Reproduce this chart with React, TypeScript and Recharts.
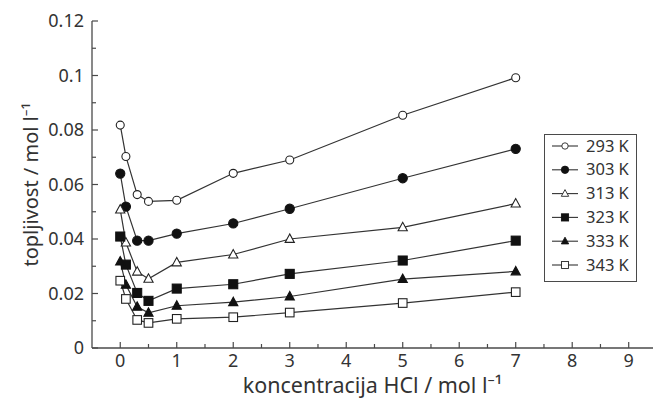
import { Legend, Line, LineChart, XAxis, YAxis } from 'recharts'

// page margin off so the chart sits at 0,0
document.body.style.margin = '0'

const conc = [0, 0.1, 0.3, 0.5, 1, 2, 3, 5, 7]

const s293 = [0.0818, 0.0703, 0.0563, 0.0538, 0.0542, 0.0641, 0.069, 0.0854, 0.0992]
const s303 = [0.064, 0.0519, 0.0394, 0.0394, 0.042, 0.0457, 0.0511, 0.0623, 0.0731]
const s313 = [0.0508, 0.0387, 0.028, 0.0254, 0.0314, 0.0343, 0.04, 0.0443, 0.053]
const s323 = [0.0409, 0.0306, 0.0202, 0.0173, 0.0218, 0.0234, 0.0272, 0.0321, 0.0394]
const s333 = [0.0317, 0.0232, 0.0151, 0.0129, 0.0155, 0.0168, 0.0189, 0.0253, 0.0281]
const s343 = [0.0247, 0.018, 0.0103, 0.0092, 0.0107, 0.0113, 0.013, 0.0165, 0.0205]

const seriesNames = ['293 K', '303 K', '313 K', '323 K', '333 K', '343 K']
const seriesKeys = ['t293', 't303', 't313', 't323', 't333', 't343']
const seriesValues = [s293, s303, s313, s323, s333, s343]
const markerShapes = ['circleOpen', 'circleFilled', 'triangleOpen', 'squareFilled', 'triangleFilled', 'squareOpen']

const xTicks = [0, 0.5, 1, 1.5, 2, 2.5, 3, 3.5, 4, 4.5, 5, 5.5, 6, 6.5, 7, 7.5, 8, 8.5, 9]
const yTicks = [0, 0.01, 0.02, 0.03, 0.04, 0.05, 0.06, 0.07, 0.08, 0.09, 0.1, 0.11, 0.12]
const yMajor = [0, 0.02, 0.04, 0.06, 0.08, 0.1, 0.12]

const data = conc.map((c, i) => {
	const row: { [k: string]: number } = { c }
	seriesKeys.forEach((k, j) => (row[k] = seriesValues[j][i]))
	return row
})

const font = "'Noto Sans', 'Open Sans', sans-serif"
const axisColor = '#4a4a4a'
const lineColor = '#333'

const Marker = ({ shape, cx, cy }: { shape: string; cx: number; cy: number }) => {
	const sw = 1.1
	if (shape === 'circleOpen') return <circle cx={cx} cy={cy} r={4} fill='#fff' stroke='#222' strokeWidth={sw} />
	if (shape === 'circleFilled') return <circle cx={cx} cy={cy} r={4.6} fill='#111' stroke='#111' strokeWidth={sw} />
	if (shape === 'squareOpen') return <rect x={cx - 4.3} y={cy - 4.3} width={8.6} height={8.6} fill='#fff' stroke='#222' strokeWidth={sw} />
	if (shape === 'squareFilled') return <rect x={cx - 4.5} y={cy - 4.5} width={9} height={9} fill='#111' stroke='#111' strokeWidth={sw} />
	const pts = `${cx},${cy - 5} ${cx - 4.6},${cy + 3.4} ${cx + 4.6},${cy + 3.4}`
	if (shape === 'triangleOpen') return <polygon points={pts} fill='#fff' stroke='#222' strokeWidth={sw} />
	return <polygon points={pts} fill='#111' stroke='#111' strokeWidth={sw} />
}

const isMajorX = (v: number) => Number.isInteger(v)
const isMajorY = (v: number) => yMajor.some((m) => Math.abs(m - v) < 1e-9)

const BottomTick = ({ x, y, payload }: any) => {
	const major = isMajorX(payload.value)
	return (
		<g>
			<line x1={x} y1={y} x2={x} y2={y - (major ? 6 : 4)} stroke={axisColor} strokeWidth={1.2} />
			{major && (
				<text x={x} y={y + 19} textAnchor='middle' fontSize={18} fontFamily={font} fill='#333'>
					{payload.value}
				</text>
			)}
		</g>
	)
}

const TopTick = ({ x, y, payload }: any) => (
	<line x1={x} y1={y} x2={x} y2={y + (isMajorX(payload.value) ? 6 : 4)} stroke={axisColor} strokeWidth={1.2} />
)

const LeftTick = ({ x, y, payload }: any) => {
	const major = isMajorY(payload.value)
	return (
		<g>
			<line x1={x} y1={y} x2={x + (major ? 6 : 4)} y2={y} stroke={axisColor} strokeWidth={1.2} />
			{major && (
				<text x={x - 8} y={y + 6} textAnchor='end' fontSize={18} fontFamily={font} fill='#333'>
					{Number(payload.value.toFixed(2)).toString()}
				</text>
			)}
		</g>
	)
}

const RightTick = ({ x, y, payload }: any) => (
	<line x1={x} y1={y} x2={x - (isMajorY(payload.value) ? 6 : 4)} y2={y} stroke={axisColor} strokeWidth={1.2} />
)

const LegendBox = () => (
	<div style={{ width: 93, height: 148, border: `1.3px solid ${axisColor}`, background: '#fff', boxSizing: 'border-box' }}>
		<svg width={91} height={146}>
			{seriesNames.map((name, i) => {
				const cy = 11 + i * 23.8
				return (
					<g key={name}>
						<line x1={7} y1={cy} x2={33} y2={cy} stroke={lineColor} strokeWidth={1.1} />
						<g transform={`translate(20,${cy}) scale(0.8) translate(-20,${-cy})`}>
							<Marker shape={markerShapes[i]} cx={20} cy={cy} />
						</g>
						<text x={41} y={cy + 5.5} fontSize={16.5} fontFamily={font} fill='#333'>
							{name}
						</text>
					</g>
				)
			})}
		</svg>
	</div>
)

export default function App() {
	return (
		<div style={{ width: 655, height: 400, background: '#fff', position: 'relative' }}>
			<LineChart width={655} height={400} data={data} margin={{ top: 21, right: 2, left: 0, bottom: 0 }}>
				<XAxis
					dataKey='c'
					type='number'
					domain={[-0.5, 9.43]}
					ticks={xTicks}
					interval={0}
					height={52}
					tickSize={0}
					tickMargin={0}
					tickLine={false}
					tick={<BottomTick />}
					stroke={axisColor}
					strokeWidth={1.3}
					allowDataOverflow
					label={{ value: 'koncentracija HCl / mol l⁻¹', position: 'insideBottom', offset: 7, fontSize: 21.5, fontFamily: font, fill: '#333' }}
				/>
				<XAxis
					xAxisId='top'
					orientation='top'
					type='number'
					domain={[-0.5, 9.43]}
					ticks={xTicks}
					interval={0}
					height={0}
					tickSize={0}
					tickMargin={0}
					tickLine={false}
					tick={<TopTick />}
					stroke={axisColor}
					strokeWidth={1.3}
					allowDataOverflow
				/>
				<YAxis
					type='number'
					domain={[0, 0.12]}
					ticks={yTicks}
					interval={0}
					width={92}
					tickSize={0}
					tickMargin={0}
					tickLine={false}
					tick={<LeftTick />}
					stroke={axisColor}
					strokeWidth={1.3}
					allowDataOverflow
					label={{ value: 'topljivost / mol l⁻¹', angle: -90, position: 'insideLeft', offset: 31, fontSize: 20, fontFamily: font, fill: '#333', style: { textAnchor: 'middle' } }}
				/>
				<YAxis
					yAxisId='right'
					orientation='right'
					type='number'
					domain={[0, 0.12]}
					ticks={yTicks}
					interval={0}
					width={0}
					tickSize={0}
					tickMargin={0}
					tickLine={false}
					tick={<RightTick />}
					stroke={axisColor}
					strokeWidth={1.3}
					allowDataOverflow
				/>
				{seriesKeys.map((k, i) => (
					<Line
						key={k}
						dataKey={k}
						name={seriesNames[i]}
						type='linear'
						stroke={lineColor}
						strokeWidth={1.2}
						isAnimationActive={false}
						dot={(p: any) => (
							<g key={`${k}-${p.index}`}>
								<Marker shape={markerShapes[i]} cx={p.cx} cy={p.cy} />
							</g>
						)}
						activeDot={false}
					/>
				))}
				<Legend
					layout='vertical'
					align='center'
					verticalAlign='middle'
					content={() => <LegendBox />}
					wrapperStyle={{ left: 544, top: 134, width: 93, height: 148 }}
				/>
			</LineChart>
		</div>
	)
}
